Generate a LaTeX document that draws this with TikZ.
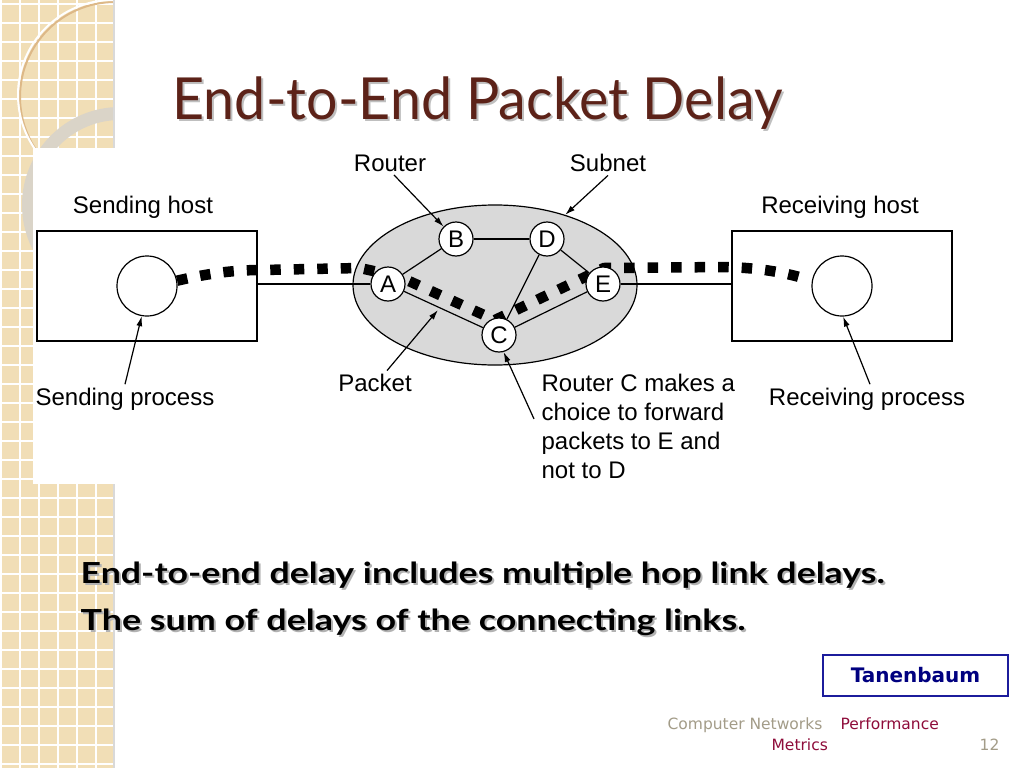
\documentclass[tikz,border=0pt]{standalone}
\usepackage{fontspec}
\setmainfont{Liberation Sans}
\newfontfamily\titlefont{Lato}
\newfontfamily\footfont{DejaVu Sans}
\usetikzlibrary{shapes.geometric,arrows.meta,calc}
\definecolor{stripbeige}{HTML}{F1DEB6}
\definecolor{titlebrown}{HTML}{5C2218}
\definecolor{subnetgray}{HTML}{D9D9D9}
\definecolor{ringgray}{HTML}{DAD4C8}
\definecolor{tanblue}{HTML}{1C1C9C}
\definecolor{footgray}{HTML}{A39C88}
\definecolor{footred}{HTML}{8E0C3A}
\tikzset{
  router/.style={circle,draw,fill=white,minimum size=34pt,inner sep=0pt,font=\fontsize{24}{24}\selectfont},
  hostbox/.style={draw,minimum width=220pt,minimum height=110pt},
  process/.style={circle,draw,fill=white,minimum size=60pt,inner sep=0pt},
  lbl/.style={inner sep=3pt,font=\fontsize{24}{29}\selectfont},
  pointer/.style={-{Latex[length=10pt,width=6pt]}},
  packet/.style={line width=10.5pt,dash pattern=on 10.5pt off 13pt},
  bodytext/.style={anchor=base west,inner sep=0pt,font=\titlefont\bfseries\fontsize{29}{29}\selectfont},
  titletext/.style={anchor=base west,inner sep=0pt,font=\titlefont\fontsize{58}{60}\selectfont},
  foottext/.style={inner sep=0pt,font=\footfont\fontsize{15.5}{15.5}\selectfont},
}
\begin{document}
\begin{tikzpicture}[x=1pt,y=-1pt,line width=1.2pt]
  \useasboundingbox (0,0) rectangle (1024,768);
  \fill[white] (0,0) rectangle (1024,768);

  %%%%% strip %%%%%
  \fill[stripbeige] (0,0) rectangle (113,768);
  \foreach \gx in {1,20,...,112}
    \draw[white,line width=1.5pt] (\gx,0) -- (\gx,768);
  \foreach \gy in {4,23,...,768}
    \draw[white,line width=1.5pt] (0,\gy) -- (113,\gy);
  \begin{scope}
    \clip (0,0) rectangle (113,768);
    \fill[ringgray,even odd rule] (120,205) circle[radius=98] (120,205) circle[radius=85];
    \draw[stripbeige!60!brown,line width=2pt] (115,97) circle[radius=95];
    \draw[white,line width=2pt] (113,95) circle[radius=95];
  \end{scope}
  \fill[black!15] (113,0) rectangle (115,768);

  %%%%% panel and title %%%%%
  \fill[white] (33,148) rectangle (1000,484);
  \node[titletext,text=black!25] (titleshadow) at (174,121) {\resizebox{610pt}{\height}{End-to-End Packet Delay}};
  \node[titletext,text=titlebrown] (title) at (172,119) {\resizebox{610pt}{\height}{End-to-End Packet Delay}};

  %%%%% hosts %%%%%
  \node[hostbox] (shost) at (147,286) {};
  \node[process] (sp) at (147,286) {};
  \node[hostbox] (rhost) at (842,286) {};
  \node[process] (rp) at (842,286) {};

  %%%%% subnet %%%%%
  \node[ellipse,draw,fill=subnetgray,minimum width=284pt,minimum height=160pt] (subnet) at (495,285) {};
  \coordinate (pkt) at (438,310);
  \draw[packet,shorten >=5pt] (sp.10) .. controls (210,273) and (235,270) .. (262,270) -- (360,268) -- (400,277)
    -- (495,320) -- (604,268) -- (728,267) .. controls (755,268) and (780,271) .. (rp.170);

  \node[router] (A) at (388,284) {A};
  \node[router] (B) at (456,239) {B};
  \node[router] (D) at (547,239) {D};
  \node[router] (E) at (603,284) {E};
  \node[router] (C) at (499,335) {C};

  \draw (A) -- (B);
  \draw (B) -- (D);
  \draw (D) -- (E);
  \draw (D) -- (C);
  \draw (A) -- (C);
  \draw (C) -- (E);
  \draw (A.west) -- (A.west -| shost.east);
  \draw (E.east) -- (E.east -| rhost.west);

  %%%%% labels %%%%%
  \node[lbl] (shlab) at (143,207) {Sending host};
  \node[lbl] (rhlab) at (840,207) {Receiving host};
  \node[lbl] (splab) at (125,399) {Sending process};
  \node[lbl] (rplab) at (867,399) {Receiving process};
  \node[lbl] (rlab) at (390,163) {Router};
  \node[lbl] (slab) at (608,163) {Subnet};
  \node[lbl] (plab) at (375,383) {Packet};
  \node[lbl,align=left,anchor=north west] (clab) at (538,371) {Router C makes a\\choice to forward\\packets to E and\\not to D};

  \draw[pointer] ([xshift=4pt]rlab.south) -- (B.135);
  \draw[pointer] (slab.south) -- (subnet.45);
  \draw[pointer] ([xshift=12pt]plab.north) -- (pkt);
  \draw[pointer] ([yshift=8pt,xshift=-4pt]clab.west) -- (C.-75);
  \draw[pointer] (splab.north) -- (sp.-100);
  \draw[pointer] ([xshift=3pt]rplab.north) -- (rp.-88);

  %%%%% text %%%%%
  \node[bodytext,text=black!30] (line1s) at (82,585) {\resizebox{804pt}{\height}{End-to-end delay includes multiple hop link delays.}};
  \node[bodytext] (line1) at (80,583) {\resizebox{804pt}{\height}{End-to-end delay includes multiple hop link delays.}};
  \node[bodytext,text=black!30] (line2s) at (82,632) {\resizebox{665pt}{\height}{The sum of delays of the connecting links.}};
  \node[bodytext] (line2) at (80,630) {\resizebox{665pt}{\height}{The sum of delays of the connecting links.}};

  \node[draw=tanblue,line width=2.5pt,minimum width=185pt,minimum height=41pt,
    text=blue!50!black,font=\footfont\bfseries\fontsize{20}{20}\selectfont] (tanen) at (915.5,675.5) {Tanenbaum};

  \node[foottext,anchor=base west,text=footgray] (course) at (667,729) {Computer Networks};
  \node[foottext,anchor=base west,text=footred] (topic1) at (840,729) {Performance};
  \node[foottext,anchor=base west,text=footred] (topic2) at (771,750) {Metrics};
  \node[foottext,anchor=base east,text=footgray] (pageno) at (1000,750) {12};
\end{tikzpicture}
\end{document}
